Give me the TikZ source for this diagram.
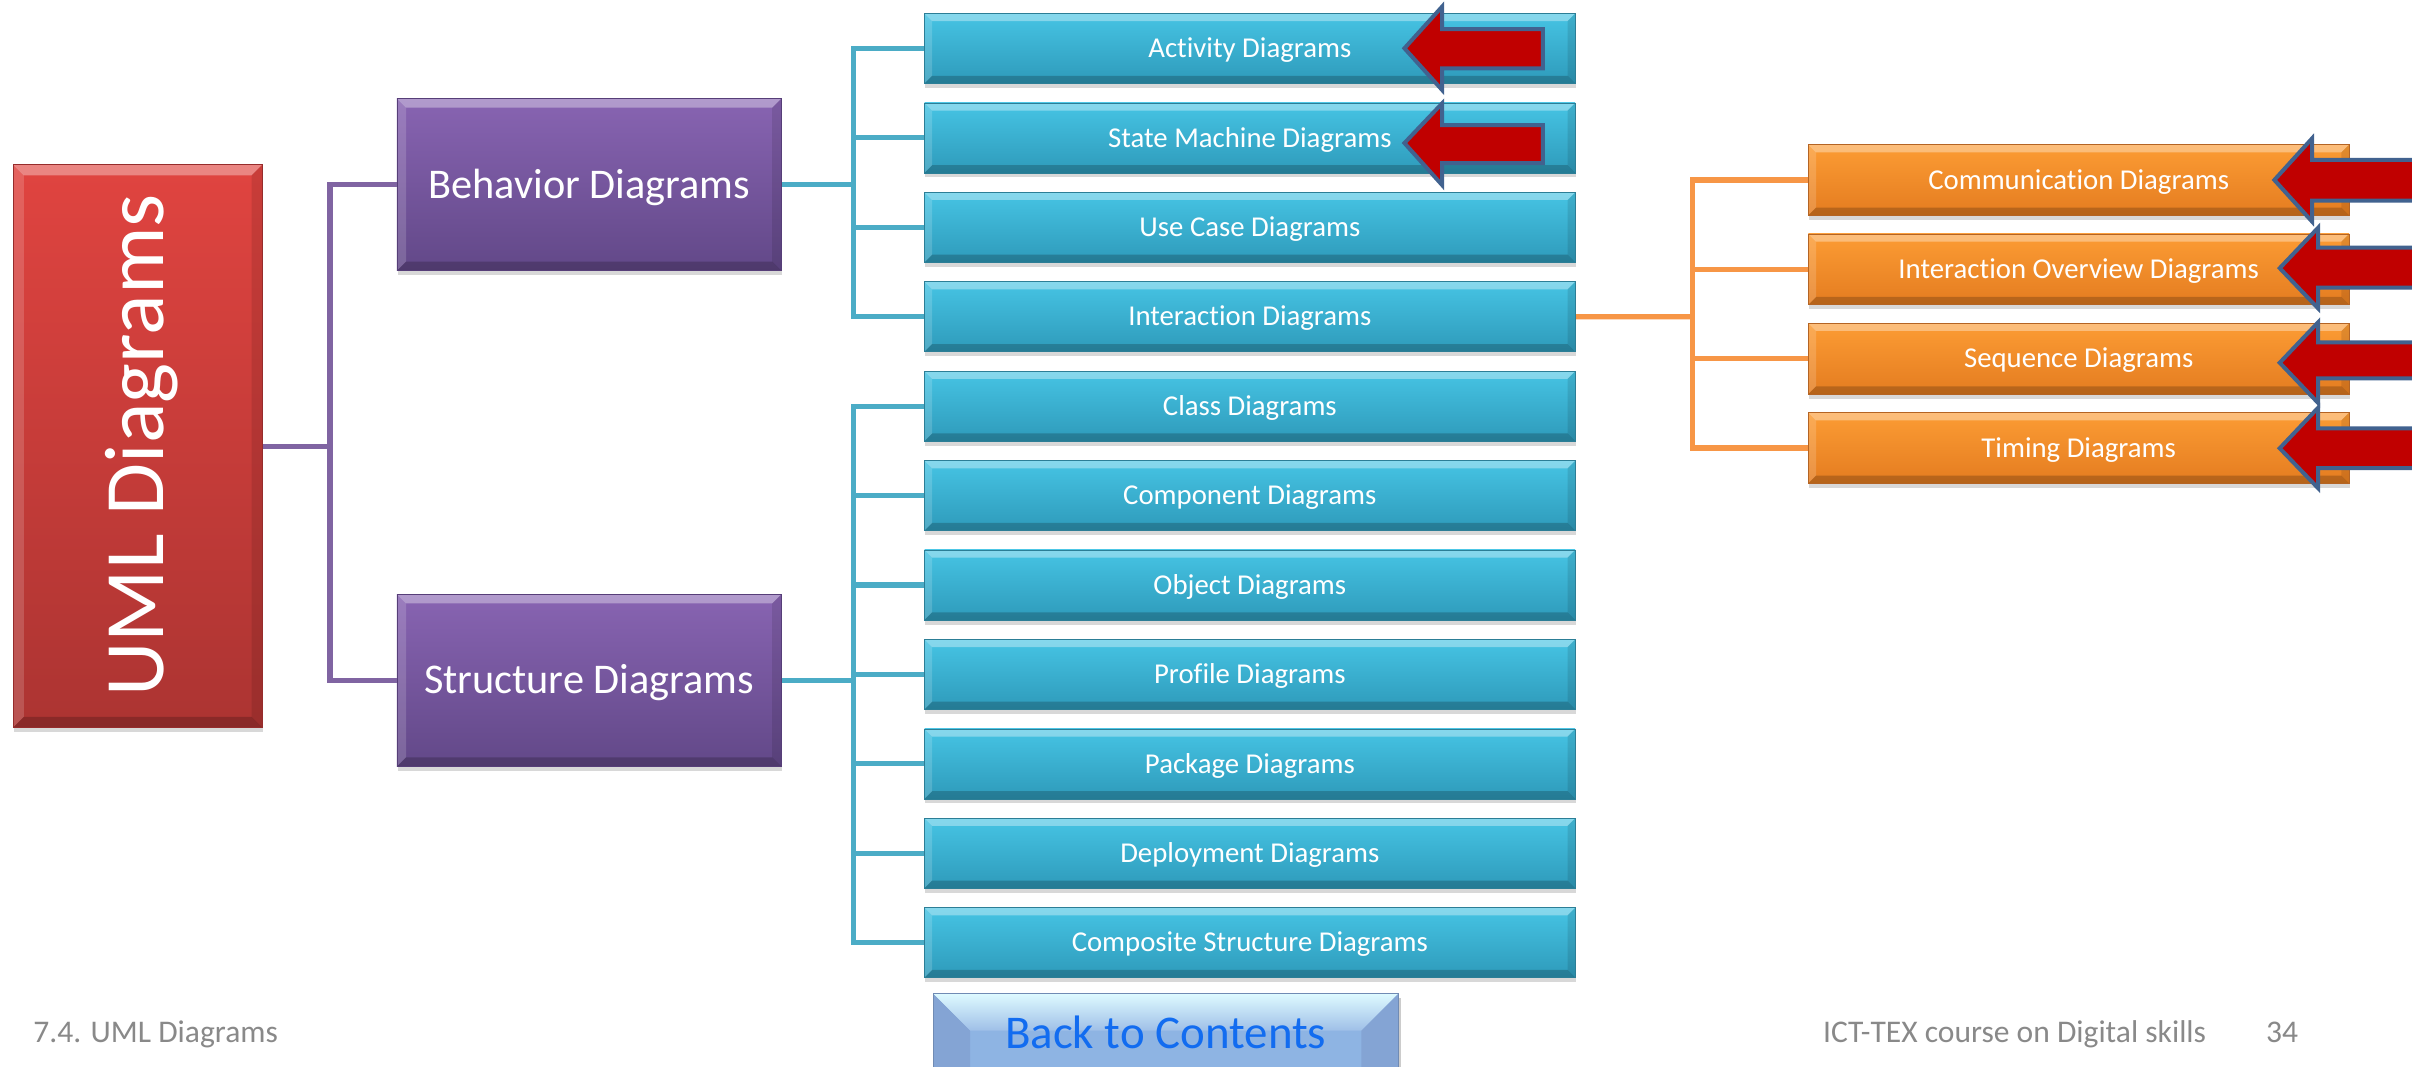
\documentclass[tikz,border=0pt]{standalone}
\usepackage{fontspec}
\setmainfont{Carlito}[Ligatures=NoCommon]
\usetikzlibrary{shadows,backgrounds}
\definecolor{tealT}{RGB}{70,196,228}
\definecolor{tealB}{RGB}{46,154,186}
\definecolor{tealE}{RGB}{44,126,150}
\definecolor{orT}{RGB}{252,156,52}
\definecolor{orB}{RGB}{228,124,32}
\definecolor{orE}{RGB}{180,100,36}
\definecolor{puT}{RGB}{136,100,178}
\definecolor{puB}{RGB}{98,72,136}
\definecolor{puE}{RGB}{86,62,120}
\definecolor{reT}{RGB}{224,68,64}
\definecolor{reB}{RGB}{172,52,50}
\definecolor{reE}{RGB}{150,44,44}
\definecolor{lnPu}{RGB}{128,100,162}
\definecolor{lnTe}{RGB}{75,172,198}
\definecolor{lnOr}{RGB}{247,150,70}
\definecolor{arrR}{RGB}{192,0,0}
\definecolor{arrB}{RGB}{65,98,143}
\definecolor{footG}{RGB}{137,137,137}
\definecolor{btnT}{RGB}{222,250,255}
\definecolor{btnM}{RGB}{142,180,227}
\definecolor{btnS}{RGB}{132,164,212}
\definecolor{btnTxt}{RGB}{18,108,240}
\tikzset{
  bevel/.style={path picture={
    \coordinate (bA) at (path picture bounding box.north west);
    \coordinate (bB) at (path picture bounding box.north east);
    \coordinate (bC) at (path picture bounding box.south east);
    \coordinate (bD) at (path picture bounding box.south west);
    \fill[white,opacity=0.35] (bA) -- (bB) -- ([xshift=-#1,yshift=-#1]bB) -- ([xshift=#1,yshift=-#1]bA) -- cycle;
    \fill[white,opacity=0.16] (bA) -- ([xshift=#1,yshift=-#1]bA) -- ([xshift=#1,yshift=#1]bD) -- (bD) -- cycle;
    \fill[black,opacity=0.1] (bB) -- ([xshift=-#1,yshift=-#1]bB) -- ([xshift=-#1,yshift=#1]bC) -- (bC) -- cycle;
    \fill[black,opacity=0.2] (bD) -- (bC) -- ([xshift=-#1,yshift=#1]bC) -- ([xshift=#1,yshift=#1]bD) -- cycle;
  }},
  boxbase/.style={rectangle, inner sep=0pt, text=white, line width=0.4pt,
    drop shadow={shadow xshift=0.5pt, shadow yshift=-3pt, fill=black!60, opacity=0.25}},
  tealbox/.style={boxbase, bevel=5pt, minimum width=423pt, minimum height=45.5pt,
    top color=tealT, bottom color=tealB, draw=tealE,
    font=\fontsize{18.7}{20}\selectfont, text height=12pt, text depth=0pt},
  orangebox/.style={boxbase, bevel=5pt, minimum width=351.5pt, minimum height=46pt,
    top color=orT, bottom color=orB, draw=orE,
    font=\fontsize{18.7}{20}\selectfont, text height=12pt, text depth=0pt},
  purplebox/.style={boxbase, bevel=6pt, minimum width=250pt, minimum height=112pt,
    top color=puT, bottom color=puB, draw=puE,
    font=\fontsize{27.5}{30}\selectfont, text height=17.7pt, text depth=0pt},
  redbox/.style={boxbase, bevel=7pt, minimum width=162pt, minimum height=366pt,
    top color=reT, bottom color=reB, draw=reE},
  pline/.style={draw=lnPu, line width=3.3pt, line cap=rect},
  tline/.style={draw=lnTe, line width=3.3pt, line cap=rect},
  oline/.style={draw=lnOr, line width=3.3pt, line cap=rect},
  redarr/.style={fill=arrR, draw=arrB, line width=2.6pt, line join=miter},
  footsty/.style={inner sep=0pt, text=footG, font=\fontsize{20.5}{22}\selectfont},
}
\begin{document}
\begin{tikzpicture}[x=1pt,y=-1pt]
\useasboundingbox (0,0) rectangle (1568,693.6);

% root
\node[redbox] (uml) at (89.5,290) {};
\node[rotate=90, anchor=base, inner sep=0pt, text=white, font=\fontsize{55}{60}\selectfont] (umltxt) at (106,289.5) {UML Diagrams};

% second level
\node[purplebox] (beh) at (383,120) {Behavior Diagrams};
\node[purplebox] (str) at (383,442.3) {Structure Diagrams};

% third level
\foreach \nm/\txt [count=\i from 0] in {act/Activity Diagrams, stm/State Machine Diagrams, usec/Use Case Diagrams, intr/Interaction Diagrams, cls/Class Diagrams, cmp/Component Diagrams, obj/Object Diagrams, prf/Profile Diagrams, pkg/Package Diagrams, dep/Deployment Diagrams, cst/Composite Structure Diagrams}
  \node[tealbox] (\nm) at (812.5, 31.5+58.13*\i) {\txt};

% interaction children
\foreach \nm/\txt [count=\i from 0] in {com/Communication Diagrams, iov/Interaction Overview Diagrams, seq/Sequence Diagrams, tim/Timing Diagrams}
  \node[orangebox] (\nm) at (1351.3, 117+58.07*\i) {\txt};

% connectors
\begin{scope}[on background layer]
\fill[white] (0,0) rectangle (1568,693.6);
\coordinate (pj) at (214.5,290);
\draw[pline] (uml.east) -- (pj);
\draw[pline] (pj) |- (beh.west);
\draw[pline] (pj) |- (str.west);
\coordinate (tj) at (555,120);
\draw[tline] (beh.east) -- (tj);
\foreach \nm in {act,stm,usec,intr} \draw[tline] (tj) |- (\nm.west);
\coordinate (sj) at (555,442.3);
\draw[tline] (str.east) -- (sj);
\foreach \nm in {cls,cmp,obj,prf,pkg,dep,cst} \draw[tline] (sj) |- (\nm.west);
\coordinate (oj) at (1100,205.9);
\draw[oline] (intr.east) -- (oj);
\foreach \nm in {com,iov,seq,tim} \draw[oline] (oj) |- (\nm.west);
\end{scope}

% red block arrows
\draw[redarr] (913,31.4) -- (937.5,4.3) -- (937.5,19) -- (1003,19) -- (1003,44.4) -- (937.5,44.4) -- (937.5,58.5) -- cycle;
\draw[redarr] (913,93) -- (937.5,67.2) -- (937.5,81.3) -- (1003,81.3) -- (1003,106) -- (937.5,106) -- (937.5,120.3) -- cycle;
\draw[redarr] (1478.5,117) -- (1503,90) -- (1503,104) -- (1580,104) -- (1580,130.5) -- (1503,130.5) -- (1503,144) -- cycle;
\draw[redarr] (1482,174.3) -- (1507,148) -- (1507,161) -- (1580,161) -- (1580,187) -- (1507,187) -- (1507,200.5) -- cycle;
\draw[redarr] (1482,235.8) -- (1507,209.5) -- (1507,222.5) -- (1580,222.5) -- (1580,246) -- (1507,246) -- (1507,262) -- cycle;
\draw[redarr] (1482,291.4) -- (1507,265) -- (1507,278.5) -- (1580,278.5) -- (1580,304.3) -- (1507,304.3) -- (1507,317.4) -- cycle;

% back to contents button
\fill[black, opacity=0.2] (608,649) rectangle (911,700);
\fill[btnM] (606.6,646) rectangle (909,700);
\shade[top color=btnT, bottom color=btnM!85!white] (606.6,646) -- (909,646) -- (885,670) -- (630.6,670) -- cycle;
\fill[btnS] (606.6,646) -- (630.6,670) -- (630.6,700) -- (606.6,700) -- cycle;
\fill[btnS] (909,646) -- (885,670) -- (885,700) -- (909,700) -- cycle;
\draw[btnS!85!black, line width=0.5pt] (606.6,700) -- (606.6,646) -- (909,646) -- (909,700);
\node[anchor=base, inner sep=0pt, text=btnTxt, font=\fontsize{30.5}{32}\selectfont] (back) at (757.8,681.5) {Back to Contents};

% footer
\node[anchor=base west, footsty] (fl) at (21.5,678) {7.4. UML Diagrams};
\node[anchor=base west, footsty] (fr) at (1185,678) {ICT-TEX course on Digital skills};
\node[anchor=base west, footsty] (pg) at (1473,678) {34};
\end{tikzpicture}
\end{document}
